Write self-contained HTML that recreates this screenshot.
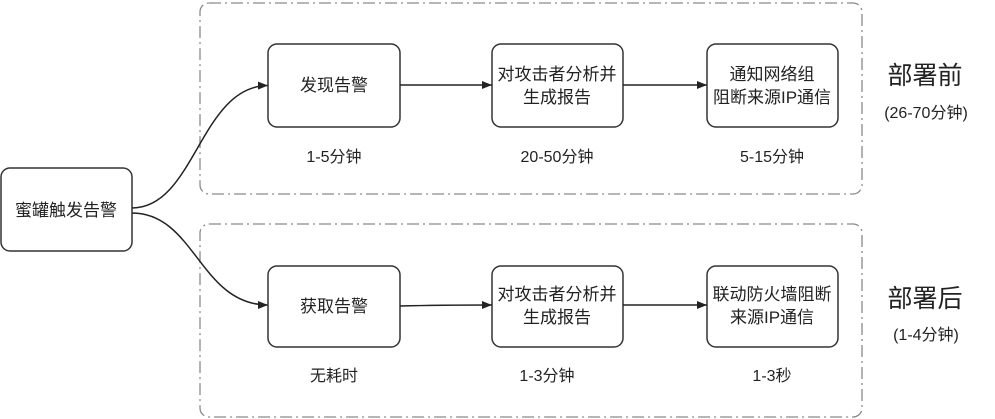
<!DOCTYPE html>
<html><head><meta charset="utf-8"><style>
html,body{margin:0;padding:0;background:#fff;}
svg{display:block;}
text{font-family:"Liberation Sans","Noto Sans CJK SC",sans-serif;fill:#222;}
</style></head><body>
<svg width="995" height="419" viewBox="0 0 995 419" xmlns="http://www.w3.org/2000/svg">
<defs>
<marker id="ah" markerWidth="10" markerHeight="8" refX="10" refY="4" orient="auto" markerUnits="userSpaceOnUse">
<path d="M0,0 L10,4 L0,8 Z" fill="#222"/>
</marker>
</defs>
<!-- groups -->
<rect x="200" y="3" width="662" height="191" rx="9" fill="none" stroke="#8a8a8a" stroke-width="1.3" stroke-dasharray="12 4 2 4"/>
<rect x="200" y="224" width="662" height="193" rx="9" fill="none" stroke="#8a8a8a" stroke-width="1.3" stroke-dasharray="12 4 2 4"/>

<!-- source node -->
<rect x="1" y="168" width="131" height="83" rx="9" fill="#fff" stroke="#333" stroke-width="1.5"/>
<text x="66" y="216" font-size="17" text-anchor="middle">蜜罐触发告警</text>

<!-- curves -->
<path d="M132,208 C195,208 200,86 268,85.5" fill="none" stroke="#222" stroke-width="1.5" marker-end="url(#ah)"/>
<path d="M132,213 C195,213 200,305 268,305" fill="none" stroke="#222" stroke-width="1.5" marker-end="url(#ah)"/>

<!-- top row -->
<rect x="268" y="44" width="132" height="83" rx="9" fill="#fff" stroke="#333" stroke-width="1.5"/>
<text x="334" y="91" font-size="17" text-anchor="middle">发现告警</text>
<rect x="492" y="44" width="131" height="83" rx="9" fill="#fff" stroke="#333" stroke-width="1.5"/>
<text x="557" y="80" font-size="17" text-anchor="middle">对攻击者分析并</text>
<text x="557" y="103" font-size="17" text-anchor="middle">生成报告</text>
<rect x="707" y="44" width="131" height="83" rx="9" fill="#fff" stroke="#333" stroke-width="1.5"/>
<text x="772" y="80" font-size="17" text-anchor="middle">通知网络组</text>
<text x="772" y="103" font-size="17" text-anchor="middle">阻断来源IP通信</text>
<line x1="400" y1="85" x2="492" y2="85" stroke="#222" stroke-width="1.5" marker-end="url(#ah)"/>
<line x1="623" y1="85" x2="707" y2="85" stroke="#222" stroke-width="1.5" marker-end="url(#ah)"/>

<text x="334" y="162" font-size="16" text-anchor="middle">1-5分钟</text>
<text x="557" y="162" font-size="16" text-anchor="middle">20-50分钟</text>
<text x="772" y="162" font-size="16" text-anchor="middle">5-15分钟</text>

<text x="925" y="84" font-size="25" text-anchor="middle">部署前</text>
<text x="926" y="118" font-size="16" text-anchor="middle">(26-70分钟)</text>

<!-- bottom row -->
<rect x="268" y="266" width="132" height="81" rx="9" fill="#fff" stroke="#333" stroke-width="1.5"/>
<text x="334" y="312" font-size="17" text-anchor="middle">获取告警</text>
<rect x="492" y="266" width="131" height="81" rx="9" fill="#fff" stroke="#333" stroke-width="1.5"/>
<text x="557" y="300" font-size="17" text-anchor="middle">对攻击者分析并</text>
<text x="557" y="323" font-size="17" text-anchor="middle">生成报告</text>
<rect x="707" y="266" width="131" height="81" rx="9" fill="#fff" stroke="#333" stroke-width="1.5"/>
<text x="772" y="300" font-size="17" text-anchor="middle">联动防火墙阻断</text>
<text x="772" y="323" font-size="17" text-anchor="middle">来源IP通信</text>
<path d="M400,306 C440,305 460,305 492,305" fill="none" stroke="#222" stroke-width="1.5" marker-end="url(#ah)"/>
<line x1="623" y1="305" x2="707" y2="305" stroke="#222" stroke-width="1.5" marker-end="url(#ah)"/>

<text x="334" y="381" font-size="16" text-anchor="middle">无耗时</text>
<text x="547" y="381" font-size="16" text-anchor="middle">1-3分钟</text>
<text x="772" y="381" font-size="16" text-anchor="middle">1-3秒</text>

<text x="925" y="307" font-size="25" text-anchor="middle">部署后</text>
<text x="926" y="340" font-size="16" text-anchor="middle">(1-4分钟)</text>
</svg>
</body></html>
